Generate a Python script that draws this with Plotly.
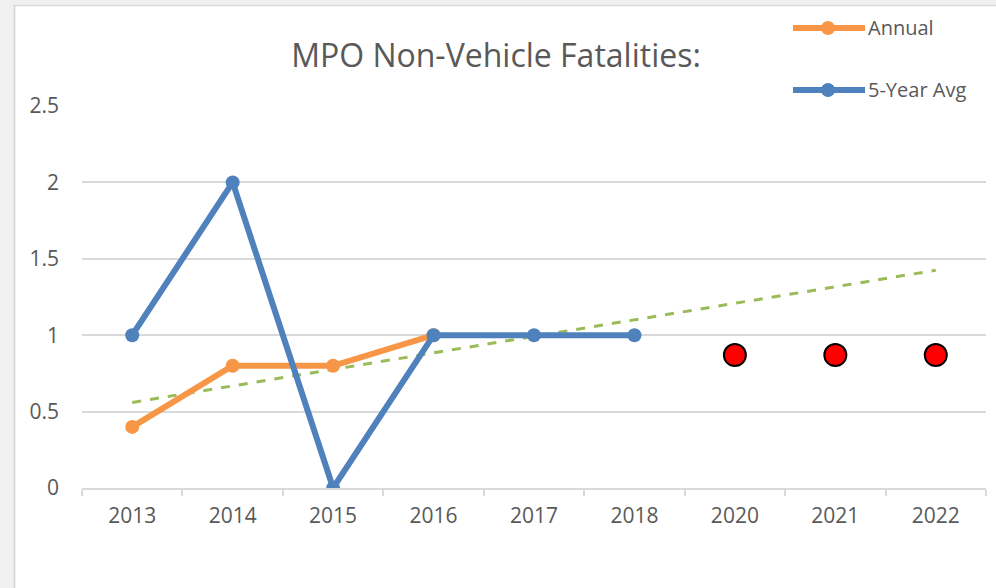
import plotly.graph_objects as go

categories = ["2013", "2014", "2015", "2016", "2017", "2018", "2020", "2021", "2022"]
annual_years = ["2013", "2014", "2015", "2016"]
annual_values = [0.4, 0.8, 0.8, 1.0]
avg_years = ["2013", "2014", "2015", "2016", "2017", "2018"]
avg_values = [1, 2, 0, 1, 1, 1]
trend_years = ["2013", "2022"]
trend_values = [0.56, 1.425]
target_years = ["2020", "2021", "2022"]
target_values = [0.87, 0.87, 0.87]
y_ticks = [0, 0.5, 1, 1.5, 2, 2.5]
y_ticklabels = ["0", "0.5", "1", "1.5", "2", "2.5"]

ORANGE = "#F79646"
BLUE = "#4F81BD"
GREEN = "#9BBB59"
GRID = "#D9D9D9"
TEXT = "#595959"
FONT = "Open Sans"

W, H = 996, 588
L, R, T, B = 82, 10, 106, 100
pw, ph = W - L - R, H - T - B

def px(x):
    return (x - L) / pw

def py(y):
    return (H - B - y) / ph

fig = go.Figure()
fig.add_trace(go.Scatter(x=trend_years, y=trend_values, mode="lines",
                         line=dict(color=GREEN, width=3, dash="dash"), showlegend=False))
fig.add_trace(go.Scatter(x=annual_years, y=annual_values, mode="lines+markers", name="Annual",
                         line=dict(color=ORANGE, width=6), marker=dict(size=14, color=ORANGE),
                         showlegend=False))
fig.add_trace(go.Scatter(x=avg_years, y=avg_values, mode="lines+markers", name="5-Year Avg",
                         line=dict(color=BLUE, width=6), marker=dict(size=14, color=BLUE),
                         showlegend=False))
fig.add_trace(go.Scatter(x=target_years, y=target_values, mode="markers",
                         marker=dict(size=22, color="#FF0000", line=dict(color="black", width=2)),
                         showlegend=False))

shapes = []
shapes.append(dict(type="rect", xref="paper", yref="paper", x0=px(0), x1=px(14), y0=py(H), y1=py(0),
                   fillcolor="#F0F0F0", line=dict(width=0), layer="below"))
shapes.append(dict(type="rect", xref="paper", yref="paper", x0=px(0), x1=px(W), y0=py(5), y1=py(0),
                   fillcolor="#F0F0F0", line=dict(width=0), layer="below"))
shapes.append(dict(type="line", xref="paper", yref="paper", x0=px(14.5), x1=px(14.5), y0=py(H), y1=py(5),
                   line=dict(color="#D0D0D0", width=1.5)))
shapes.append(dict(type="line", xref="paper", yref="paper", x0=px(14.5), x1=px(W), y0=py(5.5), y1=py(5.5),
                   line=dict(color="#D8D8D8", width=1.5)))

annotations = []
legend_items = [("Annual", ORANGE, 28), ("5-Year Avg", BLUE, 90)]
for name, col, yy in legend_items:
    shapes.append(dict(type="line", xref="paper", yref="paper", x0=px(793), x1=px(865), y0=py(yy), y1=py(yy),
                       line=dict(color=col, width=6)))
    shapes.append(dict(type="circle", xref="paper", yref="paper", x0=px(821), x1=px(835),
                       y0=py(yy + 7), y1=py(yy - 7), fillcolor=col, line=dict(color=col, width=0)))
    annotations.append(dict(xref="paper", yref="paper", x=px(866), y=py(yy), text=name, showarrow=False,
                            xanchor="left", yanchor="middle", font=dict(family=FONT, size=20, color=TEXT)))

fig.update_layout(
    width=W, height=H,
    margin=dict(l=L, r=R, t=T, b=B, autoexpand=False),
    paper_bgcolor="white", plot_bgcolor="white",
    title=dict(text="MPO Non-Vehicle Fatalities:", x=(496 / W), xanchor="center", y=1 - 56 / H, yanchor="middle",
               font=dict(family=FONT, size=32, color=TEXT)),
    shapes=shapes, annotations=annotations, showlegend=False,
    xaxis=dict(type="category", categoryorder="array", categoryarray=categories, range=[-0.5, 8.5],
               showgrid=False, showline=True, linecolor=GRID, linewidth=1.5,
               ticks="outside", tickson="boundaries", ticklen=6, tickcolor=GRID, tickwidth=1.5,
               tickfont=dict(family=FONT, size=21, color=TEXT), ticklabelstandoff=8, zeroline=False),
    yaxis=dict(range=[0, 2.5], tickvals=y_ticks, ticktext=y_ticklabels, showgrid=True, gridcolor=GRID,
               gridwidth=1.5, showline=False, zeroline=False, ticks="",
               tickfont=dict(family=FONT, size=21, color=TEXT), ticklabelstandoff=22),
    font=dict(family=FONT),
)

fig.write_html("out.html", config={"displayModeBar": False},
               post_script="document.body.style.margin='0';document.body.style.padding='0';")
